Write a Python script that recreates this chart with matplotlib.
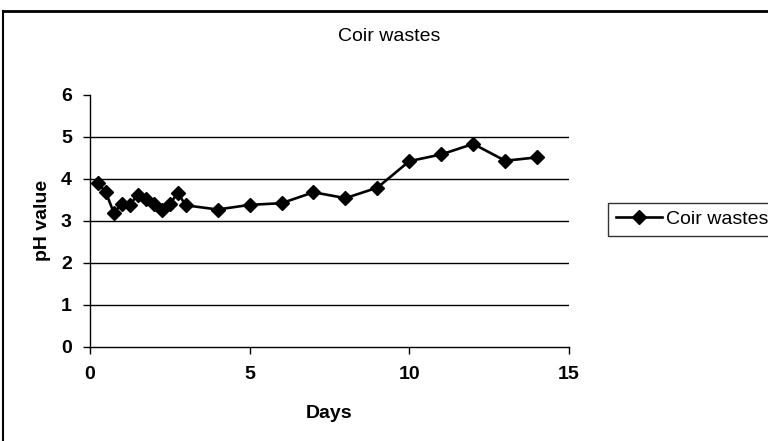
import matplotlib
matplotlib.use("Agg")
import matplotlib.pyplot as plt
from matplotlib.lines import Line2D

plt.rcParams['font.family'] = ['Liberation Sans Narrow', 'Liberation Sans', 'DejaVu Sans']

days = [0.25, 0.5, 0.75, 1.0, 1.25, 1.5, 1.75, 2.0, 2.25, 2.5, 2.75, 3.0,
        4, 5, 6, 7, 8, 9, 10, 11, 12, 13, 14]
ph = [3.90, 3.68, 3.19, 3.40, 3.38, 3.62, 3.52, 3.41, 3.25, 3.39, 3.67, 3.37,
      3.27, 3.38, 3.42, 3.68, 3.54, 3.79, 4.42, 4.58, 4.83, 4.43, 4.51]
series_name = "Coir wastes"
title = "Coir wastes"
xticks = [0, 5, 10, 15]
yticks = [0, 1, 2, 3, 4, 5, 6]

fig = plt.figure(figsize=(7.68, 4.41), dpi=100)
ax = fig.add_axes([0.117, 0.2132, 0.624, 0.572])

ax.plot(days, ph, color='black', lw=1.9, marker='D', ms=6.8, label=series_name)

ax.set_xlim(0, 15)
ax.set_ylim(0, 6)
ax.set_xticks(xticks)
ax.set_yticks(yticks)
ax.grid(axis='y', color='black', lw=1)
ax.get_ygridlines()[-1].set_visible(False)
ax.get_ygridlines()[0].set_visible(False)
ax.set_axisbelow(True)

for s in ['top', 'right']:
    ax.spines[s].set_visible(False)
for s in ['left', 'bottom']:
    ax.spines[s].set_color('black')
    ax.spines[s].set_linewidth(1)

ax.tick_params(axis='both', direction='out', length=5, width=1, colors='black',
               labelsize=14)
ax.tick_params(axis='x', pad=9)
ax.tick_params(axis='y', pad=8)
for lab in ax.get_xticklabels() + ax.get_yticklabels():
    lab.set_fontweight('bold')

ax.set_xlabel("Days", fontsize=14, fontweight='bold', labelpad=15.5)
ax.set_ylabel("pH value", fontsize=14, fontweight='bold', labelpad=7.5)
fig.text(0.507, 0.918, title, ha='center', va='center', fontsize=14)

leg = fig.legend(loc='center left', bbox_to_anchor=(0.779, 0.503),
                 fontsize=14, frameon=True, fancybox=False, edgecolor='black',
                 handlelength=2.4, borderpad=0.4, handletextpad=0.2)
leg.get_frame().set_linewidth(1)

# outer chart frame
fig.add_artist(Line2D([0.004, 1.0], [0.975, 0.975], color='black', lw=2,
                      transform=fig.transFigure))
fig.add_artist(Line2D([0.004, 0.004], [0.0, 0.975], color='black', lw=1.5,
                      transform=fig.transFigure))

fig.savefig("out.png", dpi=100)
